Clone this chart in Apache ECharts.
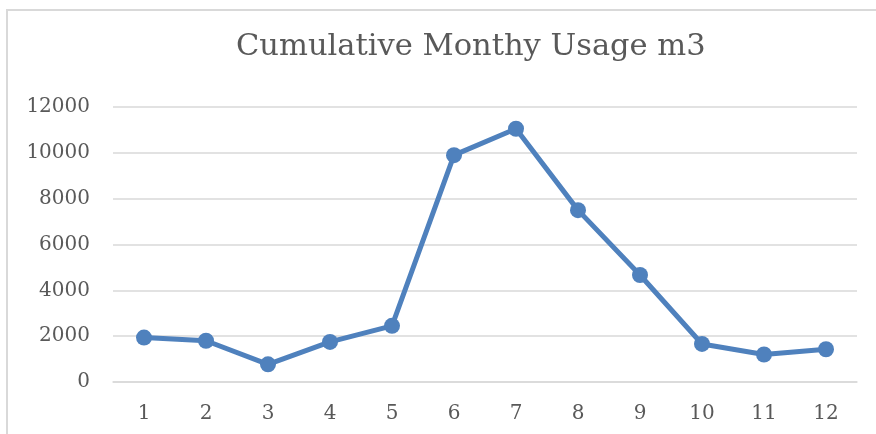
<!DOCTYPE html>
<html>
<head>
<meta charset="utf-8">
<script src="https://cdn.jsdelivr.net/npm/echarts@6/dist/echarts.min.js"></script>
<style>
  html, body { margin: 0; padding: 0; background: #fff; }
  #chart { width: 876px; height: 434px; }
</style>
</head>
<body>
<div id="chart"></div>
<script>
var months = ['1', '2', '3', '4', '5', '6', '7', '8', '9', '10', '11', '12'];
var usage = [1940, 1800, 770, 1750, 2450, 9900, 11050, 7500, 4670, 1660, 1200, 1430];
var yTicks = [0, 2000, 4000, 6000, 8000, 10000, 12000];

var chartTitle = 'Cumulative Monthy Usage m3';
var lineColor = '#4f81bd';
var textColor = '#595959';
var gridColor = '#d9d9d9';

var myChart = echarts.init(document.getElementById('chart'));

var option = {
    backgroundColor: '#fff',
    animation: false,

    // outer chart frame (runs off the right and bottom edge)
    graphic: [{
        type: 'rect',
        shape: { x: 7, y: 10, width: 900, height: 460 },
        style: { fill: 'none', stroke: gridColor, lineWidth: 2 },
        z: -1
    }],

    title: {
        text: chartTitle,
        left: 231,
        top: 27,
        textStyle: {
            fontFamily: 'DejaVu Serif',
            fontSize: 30.5,
            fontWeight: 'normal',
            color: textColor
        }
    },

    grid: {
        left: 113,
        right: 19,
        top: 107,
        bottom: 52
    },

    xAxis: {
        type: 'category',
        data: months,
        boundaryGap: true,
        axisLine: { show: true, lineStyle: { color: gridColor, width: 1.5 } },
        axisTick: { show: false },
        axisLabel: {
            margin: 22,
            fontFamily: 'DejaVu Serif',
            fontSize: 20,
            color: textColor
        }
    },

    yAxis: {
        type: 'value',
        min: yTicks[0],
        max: yTicks[yTicks.length - 1],
        interval: yTicks[1] - yTicks[0],
        axisLine: { show: false },
        axisTick: { show: false },
        splitLine: { lineStyle: { color: gridColor, width: 1.5 } },
        axisLabel: {
            margin: 23,
            fontFamily: 'DejaVu Serif',
            fontSize: 20,
            color: textColor,
            formatter: function (v) { return String(v); }
        }
    },

    series: [{
        name: chartTitle,
        type: 'line',
        data: usage,
        symbol: 'circle',
        symbolSize: 16,
        lineStyle: { color: lineColor, width: 5 },
        itemStyle: { color: lineColor }
    }]
};

myChart.setOption(option);
</script>
</body>
</html>
